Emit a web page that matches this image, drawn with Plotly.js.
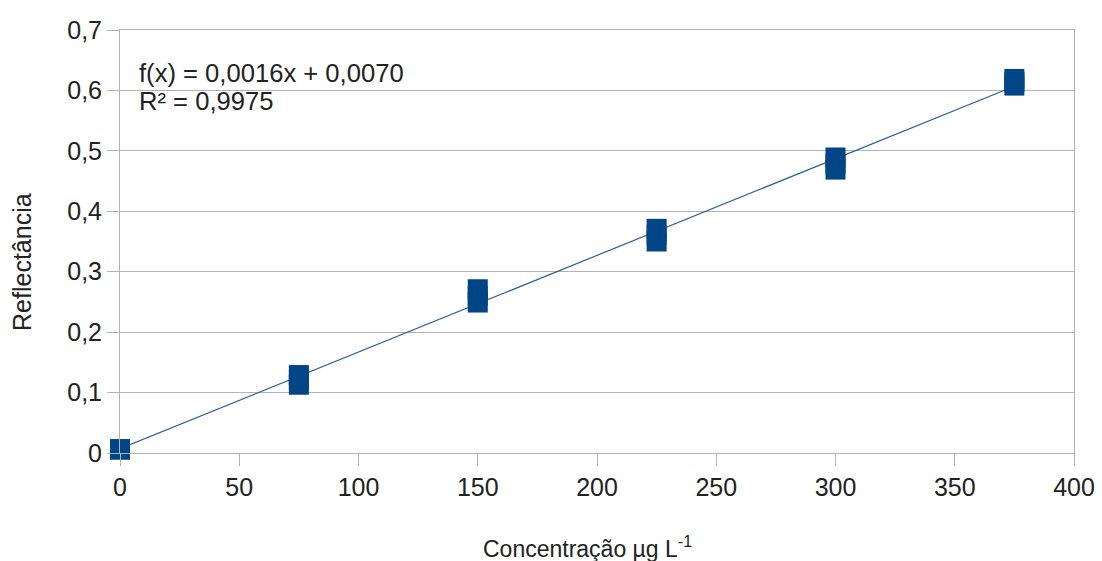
<!DOCTYPE html>
<html>
<head>
<meta charset="utf-8">
<script src="https://cdn.plot.ly/plotly-3.0.1.min.js"></script>
<style>
  html, body { margin: 0; padding: 0; background: #fff; }
  #chart { width: 1102px; height: 561px; }
</style>
</head>
<body>
<div id="chart"></div>
<script>
// Calibration data: concentration (µg L-1) and reflectance of three replicates
const concentration = [0, 75, 150, 225, 300, 375];
const replicateA = [0.006, 0.129, 0.271, 0.371, 0.489, 0.619];
const replicateB = [0.006, 0.121, 0.260, 0.361, 0.479, 0.614];
const replicateC = [0.006, 0.113, 0.249, 0.350, 0.469, 0.608];

// Linear fit stated on the chart
const slope = 0.0016;
const intercept = 0.0070;
const rSquared = 0.9975;

const xTicks = [0, 50, 100, 150, 200, 250, 300, 350, 400];
const yTicks = [0, 0.1, 0.2, 0.3, 0.4, 0.5, 0.6, 0.7];
const yTickText = ['0', '0,1', '0,2', '0,3', '0,4', '0,5', '0,6', '0,7'];

const fmt = (v, d) => v.toFixed(d).replace('.', ',');

const xs = [], ys = [];
[replicateA, replicateB, replicateC].forEach(rep => {
  rep.forEach((v, i) => { xs.push(concentration[i]); ys.push(v); });
});

const fitX = [concentration[0], concentration[concentration.length - 1]];
const fitY = fitX.map(x => slope * x + intercept);

const font = { family: 'Liberation Sans, Arial, sans-serif', color: '#222' };

const traces = [
  {
    x: fitX, y: fitY, type: 'scatter', mode: 'lines',
    line: { color: '#2a6099', width: 1.2 },
    hoverinfo: 'skip', cliponaxis: false
  },
  {
    x: xs, y: ys, type: 'scatter', mode: 'markers',
    marker: { symbol: 'square', size: 20, color: '#004586', line: { width: 0 } },
    cliponaxis: false
  }
];

const L = 120, R = 28, T = 29.5, B = 107.5;
const W = 1102, H = 561;
const pw = W - L - R, ph = H - T - B;
const px = p => (p - L) / pw;
const py = p => (T + ph - p) / ph;

const layout = {
  width: W, height: H,
  margin: { l: L, r: R, t: T, b: B, pad: 0 },
  paper_bgcolor: '#fff', plot_bgcolor: '#fff',
  showlegend: false,
  hovermode: false,
  font: Object.assign({ size: 25 }, font),
  xaxis: {
    range: [0, 400], tickvals: xTicks, ticktext: xTicks.map(String),
    showgrid: false, zeroline: false,
    showline: true, mirror: true, linecolor: '#b3b3b3', linewidth: 1,
    ticks: 'outside', ticklen: 12, tickcolor: '#b3b3b3', tickwidth: 1,
    tickfont: Object.assign({ size: 25 }, font),
    fixedrange: true
  },
  yaxis: {
    range: [0, 0.7], tickvals: yTicks, ticktext: yTickText,
    showgrid: true, gridcolor: '#b3b3b3', gridwidth: 1, zeroline: false,
    showline: true, mirror: true, linecolor: '#b3b3b3', linewidth: 1,
    ticks: 'outside', ticklen: 12, tickcolor: '#b3b3b3', tickwidth: 1,
    tickfont: Object.assign({ size: 25 }, font),
    fixedrange: true
  },
  annotations: [
    {
      xref: 'paper', yref: 'paper', x: px(137), y: py(73), xanchor: 'left', yanchor: 'middle',
      text: 'f(x) = ' + fmt(slope, 4) + 'x + ' + fmt(intercept, 4),
      showarrow: false, font: Object.assign({ size: 25.6 }, font)
    },
    {
      xref: 'paper', yref: 'paper', x: px(137), y: py(101), xanchor: 'left', yanchor: 'middle',
      text: 'R² = ' + fmt(rSquared, 4),
      showarrow: false, font: Object.assign({ size: 25.6 }, font)
    },
    {
      xref: 'paper', yref: 'paper', x: px(587), y: py(548), xanchor: 'center', yanchor: 'middle',
      text: 'Concentração µg L<sup>-1</sup>',
      showarrow: false, font: Object.assign({ size: 23 }, font)
    },
    {
      xref: 'paper', yref: 'paper', x: px(22), y: py(262), xanchor: 'center', yanchor: 'middle',
      text: 'Reflectância', textangle: -90,
      showarrow: false, font: Object.assign({ size: 25 }, font)
    }
  ]
};

Plotly.newPlot('chart', traces, layout, { displayModeBar: false, staticPlot: true });
</script>
</body>
</html>
